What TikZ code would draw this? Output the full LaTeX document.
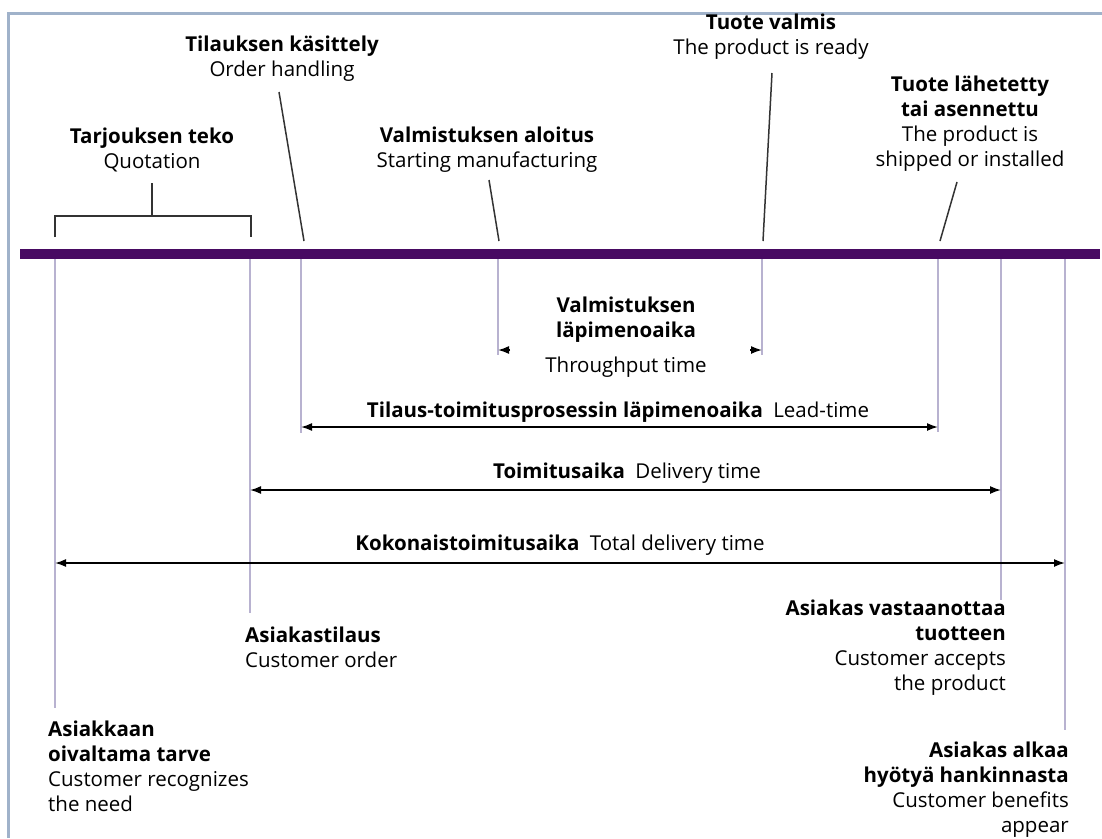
\documentclass[tikz,border=0pt]{standalone}
\usepackage{fontspec}
\setmainfont{Open Sans}
\usetikzlibrary{arrows.meta,positioning,calc}
\definecolor{barpurple}{RGB}{72,10,98}
\definecolor{tickgray}{RGB}{184,178,208}
\definecolor{framegray}{RGB}{160,178,202}
\tikzset{>={Latex[length=11pt,width=8pt]},
  lbl/.style={align=center, inner sep=0pt, font=\fontsize{20.5}{25}\selectfont},
  tick/.style={draw=tickgray, line width=2pt},
  lead/.style={draw=black!80, line width=1.5pt},
  span/.style={<->, line width=1.6pt}}

\begin{document}
\begin{tikzpicture}[x=1pt, y=-1pt]
  \useasboundingbox[fill=white] (0,0) rectangle (1102,838);
  \draw[framegray, line width=3pt] (8,838) -- (8,13) -- (1102,13);
  % time axis
  \coordinate (axl) at (20,254);
  \coordinate (axr) at (1100,254);
  % upper labels
  \node[lbl] (quote) at (152,150) {\textbf{Tarjouksen teko}\\Quotation};
  \node[lbl] (handling) at (282,59) {\textbf{Tilauksen käsittely}\\Order handling};
  \node[lbl] (startmfg) at (487,150) {\textbf{Valmistuksen aloitus}\\Starting manufacturing};
  \node[lbl] (ready) at (771,37) {\textbf{Tuote valmis}\\The product is ready};
  \node[lbl] (shipped) at (970,124) {\textbf{Tuote lähetetty}\\\textbf{tai asennettu}\\The product is\\shipped or installed};
  % span labels
  \node[lbl] (thrufi) at (626,320) {\textbf{Valmistuksen}\\\textbf{läpimenoaika}};
  \node[lbl] (thruen) at (626,367) {Throughput time};
  \node[lbl] (leadlbl) at (618,412) {\textbf{Tilaus-toimitusprosessin läpimenoaika}\enspace Lead-time};
  \node[lbl] (delivlbl) at (627,473) {\textbf{Toimitusaika}\enspace Delivery time};
  \node[lbl] (totallbl) at (560,545) {\textbf{Kokonaistoimitusaika}\enspace Total delivery time};
  % lower labels
  \node[lbl, align=left, anchor=west] (order) at (245,647) {\textbf{Asiakastilaus}\\Customer order};
  \node[lbl, align=left, anchor=west] (need) at (48,766) {\textbf{Asiakkaan}\\\textbf{oivaltama tarve}\\Customer recognizes\\the need};
  \node[lbl, align=right, anchor=east] (accepts) at (1006,648) {\textbf{Asiakas vastaanottaa}\\\textbf{tuotteen}\\Customer accepts\\the product};
  \node[lbl, align=right, anchor=east] (benefits) at (1069,790) {\textbf{Asiakas alkaa}\\\textbf{hyötyä hankinnasta}\\Customer benefits\\appear};
  % event ticks below the axis
  \coordinate (t1) at (55,254);   \coordinate (b1) at (55,708);
  \coordinate (t2) at (250,254);  \coordinate (b2) at (250,613);
  \coordinate (t3) at (301,254);  \coordinate (b3) at (301,433);
  \coordinate (t4) at (498,254);  \coordinate (b4) at (498,355);
  \coordinate (t5) at (762,254);  \coordinate (b5) at (762,355);
  \coordinate (t6) at (938,254);  \coordinate (b6) at (938,432);
  \coordinate (t7) at (1001,254); \coordinate (b7) at (1001,600);
  \coordinate (t8) at (1065,254); \coordinate (b8) at (1065,730);
  \draw[tick] (t1) -- (b1);
  \draw[tick] (t2) -- (b2);
  \draw[tick] (t3) -- (b3);
  \draw[tick] (t4) -- (b4);
  \draw[tick] (t5) -- (b5);
  \draw[tick] (t6) -- (b6);
  \draw[tick] (t7) -- (b7);
  \draw[tick] (t8) -- (b8);
  \draw[barpurple, line width=10pt] (axl) -- (axr);
  % bracket and leaders
  \draw[lead] (55,237) -- (55,216) -- (251,216) -- (251,237);
  \draw[lead] (152,183) -- (152,216);
  \draw[lead] (279,92) -- (304,241);
  \draw[lead] (489,180) -- (499,241);
  \draw[lead] (772,73) -- (763,241);
  \draw[lead] (957,182) -- (940,241);
  % spans
  \draw[->, line width=1.6pt] (510,350) -- (b4 |- 0,350);
  \draw[->, line width=1.6pt] (750,350) -- (b5 |- 0,350);
  \draw[span] (t3 |- 0,427) -- (t6 |- 0,427);
  \draw[span] (t2 |- 0,490) -- (t7 |- 0,490);
  \draw[span] (t1 |- 0,563) -- (t8 |- 0,563);
\end{tikzpicture}
\end{document}
